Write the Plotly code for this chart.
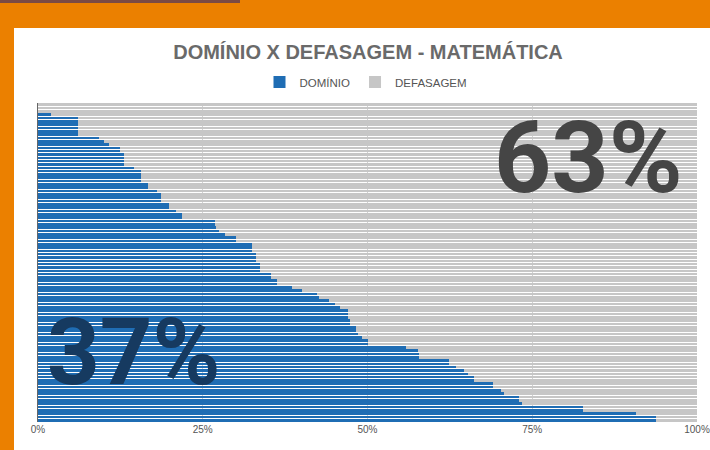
import plotly.graph_objects as go

# Domínio (%) per student, top to bottom
dominio = [0, 0, 0, 2, 6.1, 6.1, 6.1, 6.1, 6.1, 6.1,
           9.3, 10, 10.8, 12.5, 12.5, 13, 13, 13, 13, 14.6,
           15.7, 15.7, 15.7, 15.7, 16.7, 16.7, 18, 18.7, 18.7, 18.7,
           19.9, 19.9, 21, 21.9, 21.9, 26.8, 26.8, 27, 27.5, 28.3,
           30, 30, 32.5, 32.5, 32.5, 33.1, 33.1, 33.1, 33.7, 33.7,
           33.7, 35.3, 35.3, 36.2, 36.2, 38.6, 40, 42.4, 42.6, 44.2,
           45, 45.9, 47, 47, 47, 47.3, 47.3, 48.2, 48.2, 48.5,
           49.1, 50, 50, 55.9, 57.6, 57.8, 57.8, 62.3, 62.3, 63.4,
           64.6, 65.2, 66.1, 66.2, 69.1, 69.1, 70.2, 70.7, 73, 73,
           73.4, 82.7, 82.7, 90.7, 93.8, 93.8]
defasagem = [round(100 - v, 1) for v in dominio]
alunos = [str(i + 1) for i in range(len(dominio))]

x_ticks = [0, 25, 50, 75, 100]
x_tick_labels = ["0%", "25%", "50%", "75%", "100%"]

title_text = "DOMÍNIO X DEFASAGEM - MATEMÁTICA"
total_dominio = "37%"
total_defasagem = "63%"

W, H = 710, 450
L, R, T, B = 38, 13, 103, 28
pw, ph = W - L - R, H - T - B

def px_x(p):
    return (p - L) / pw

def px_y(p):
    return (H - B - p) / ph

fig = go.Figure()
fig.add_trace(go.Bar(y=alunos, x=dominio, name="DOMÍNIO", orientation="h",
                     marker=dict(color="#1f6db4", line=dict(width=0))))
fig.add_trace(go.Bar(y=alunos, x=defasagem, name="DEFASAGEM", orientation="h",
                     marker=dict(color="#c6c6c6", line=dict(width=0))))

font_family = "Liberation Sans, Arial, sans-serif"
big_family = "Roboto, Liberation Sans, sans-serif"

fig.update_layout(
    width=W, height=H,
    margin=dict(l=L, r=R, t=T, b=B, autoexpand=False),
    barmode="stack", bargap=0.22,
    paper_bgcolor="#eb8000", plot_bgcolor="white",
    font=dict(family=font_family, color="#555555"),
    title=dict(text="<b>" + title_text + "</b>", x=368 / W,
               xanchor="center", y=1 - 52 / H, yanchor="middle", yref="container",
               font=dict(size=20, color="#6a6a6a", family=font_family)),
    legend=dict(orientation="h", x=px_x(366), xanchor="center", y=px_y(82), yanchor="middle",
                font=dict(size=11.5, color="#555555"), bgcolor="rgba(0,0,0,0)",
                traceorder="normal", tracegroupgap=0),
    xaxis=dict(range=[0, 100], tickvals=x_ticks, ticktext=x_tick_labels,
               showgrid=True, gridcolor="#d2d2d2", gridwidth=1, zeroline=False,
               tickfont=dict(size=10, color="#555555"), ticks="", showline=False,
               fixedrange=True),
    yaxis=dict(autorange="reversed", showticklabels=False, showgrid=False,
               showline=True, linecolor="#666666", linewidth=1, ticks="",
               fixedrange=True),
    shapes=[
        dict(type="rect", xref="paper", yref="paper", layer="below",
             x0=px_x(14), x1=px_x(712), y0=px_y(452), y1=px_y(28),
             fillcolor="white", line=dict(width=0)),
        dict(type="rect", xref="paper", yref="paper", layer="below",
             x0=px_x(0), x1=px_x(240), y0=px_y(3), y1=px_y(-2),
             fillcolor="#7a4a44", line=dict(width=0)),
    ],
    annotations=[
        dict(text="<b>" + total_defasagem + "</b>", xref="paper", yref="paper",
             x=px_x(588), y=px_y(157), xanchor="center", yanchor="middle",
             showarrow=False, font=dict(size=100, color="#454545", family=big_family)),
        dict(text="<b>" + total_dominio + "</b>", xref="paper", yref="paper",
             x=px_x(134), y=px_y(352), xanchor="center", yanchor="middle",
             showarrow=False, font=dict(size=92, color="#163a60", family=big_family)),
    ],
)

fig.write_html("out.html", config={"displayModeBar": False},
               post_script="document.body.style.margin='0px';document.body.style.overflow='hidden';")
